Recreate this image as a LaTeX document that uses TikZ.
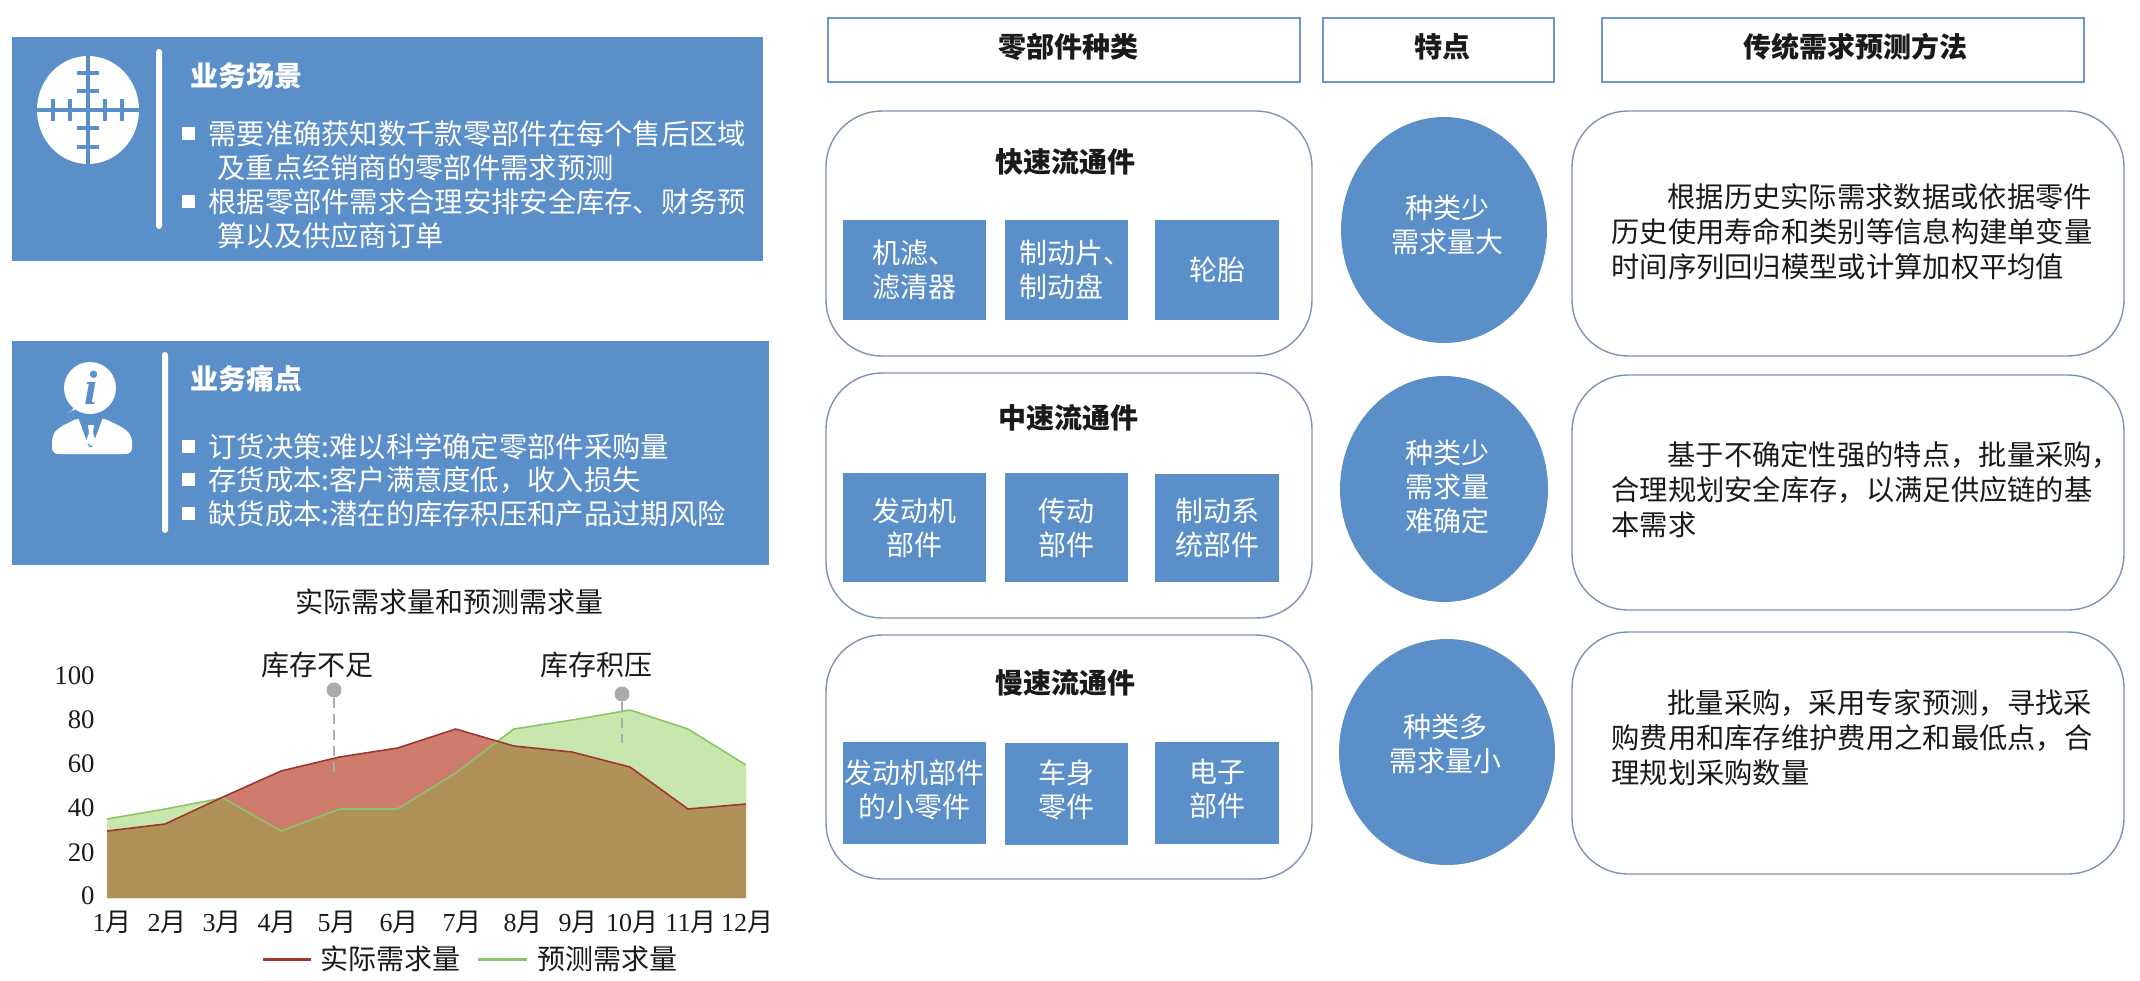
\documentclass[tikz,border=0pt]{standalone}
\usepackage{fontspec}
\usepackage{tikz}
\usetikzlibrary{shapes.geometric}
\setmainfont{Noto Sans CJK SC}
\newfontfamily\numfont{Liberation Serif}
\definecolor{panelblue}{HTML}{5B8FC9}
\definecolor{headline}{HTML}{6B96C6}
\definecolor{roundline}{HTML}{7F93B2}
\definecolor{areared}{HTML}{CE7C6C}
\definecolor{areagreen}{HTML}{C7E7AC}
\definecolor{areaboth}{HTML}{B09159}
\definecolor{linered}{HTML}{A0362F}
\definecolor{linegreen}{HTML}{8CC46C}
\definecolor{darktext}{HTML}{1A1A1A}
\definecolor{pingrey}{HTML}{ABABAB}
\newcommand{\actualline}{(107,831) -- (165,824) -- (223,797) -- (281,771) -- (339.5,757) -- (397.6,748) -- (455.7,729) -- (513.8,746) -- (572,752) -- (630,767) -- (688,809) -- (746,804)}
\newcommand{\forecastline}{(107,819) -- (165,809) -- (223,798) -- (281,831) -- (339.5,809) -- (397.6,809) -- (455.7,773) -- (513.8,729) -- (572,720) -- (630,710) -- (688,729) -- (746,765)}

\begin{document}
\begin{tikzpicture}[x=0.5pt,y=-0.5pt,inner sep=0pt,
        panel/.style={fill=panelblue,minimum height=112pt},
        partbox/.style={fill=panelblue,text=white,align=center,font=\fontsize{14}{17}\selectfont},
        parttext/.style={text=white,align=center,font=\fontsize{14}{17}\selectfont},
        headbox/.style={draw=headline,line width=1.2pt,fill=white,minimum height=32pt},
        headtext/.style={text=darktext,font=\fontsize{14}{17}\selectfont\bfseries},
        groupbox/.style={draw=roundline,line width=0.7pt,rounded corners=28pt,fill=white},
        traitshape/.style={ellipse,fill=panelblue},
        paneltext/.style={anchor=west,align=left,text=white,font=\fontsize{14.15}{17}\selectfont},
        paneltitle/.style={anchor=west,text=white,font=\fontsize{14}{17}\selectfont\bfseries},
        grouptitle/.style={text=darktext,font=\fontsize{14}{17}\selectfont\bfseries},
        methodtext/.style={anchor=west,align=left,text=darktext,font=\fontsize{14.15}{17.5}\selectfont},
        charttext/.style={text=darktext,font=\fontsize{14}{17}\selectfont},
        bulletmark/.style={fill=white,minimum size=6.5pt},
        markerdot/.style={circle,fill=pingrey,minimum size=7.5pt},
        guide/.style={draw=pingrey,line width=0.8pt,dashed,dash pattern=on 5pt off 3pt}]
    \useasboundingbox (0,0) rectangle (2140,980);

    % left panels
    \node[panel,minimum width=375.5pt] (scenepanel) at (387.5,149) {};
    \node[panel,minimum width=378.5pt] (painpanel) at (390.5,453) {};
    \fill[white,rounded corners=1.5pt] (156,49) rectangle (162,229);
    \fill[white,rounded corners=1.5pt] (162,352) rectangle (168,533);

    \fill[white] (88,110) circle [x radius=51,y radius=54];
    \draw[panelblue,line width=1.7pt] (88,56) -- (88,164) (37,110) -- (139,110);
    \foreach \tx in {53,70,105,122}
        \draw[panelblue,line width=1.7pt] (\tx,99) -- (\tx,121);
    \foreach \ty in {73,91,128,147}
        \draw[panelblue,line width=1.7pt] (77,\ty) -- (99,\ty);

    \fill[white] (90,388) circle [radius=26];
    \fill[white] (78,408) -- (67,413) .. controls (72,412) and (76,408) .. (72,400) -- cycle;
    \node[text=panelblue,font=\numfont\fontsize{24}{24}\selectfont\bfseries\itshape] (infomark) at (91,388) {i};
    \fill[white,rounded corners=3pt] (52,454) -- (52,436) -- (58,428) -- (78,418) -- (103,418) -- (124,428) -- (132,436) -- (132,454) -- cycle;
    \fill[panelblue] (78,417) -- (103,417) -- (92,447) -- (89,447) -- cycle;
    \fill[white] (88,425) -- (94,425) -- (93,433) -- (96,441) -- (91,446) -- (86,441) -- (89,433) -- cycle;

    \node[paneltitle] (scenetitle) at (190,76) {业务场景};
    \node[bulletmark] (scenebul1) at (188,133) {};
    \node[bulletmark] (scenebul2) at (188,201) {};
    \node[paneltext] (scenetext1) at (208,151) {需要准确获知数千款零部件在每个售后区域\\\hspace*{4.5pt}及重点经销商的零部件需求预测};
    \node[paneltext] (scenetext2) at (208,219) {根据零部件需求合理安排安全库存、财务预\\\hspace*{4.5pt}算以及供应商订单};

    \node[paneltitle] (paintitle) at (190,379) {业务痛点};
    \node[bulletmark] (painbul1) at (188,446) {};
    \node[bulletmark] (painbul2) at (188,479) {};
    \node[bulletmark] (painbul3) at (188,513) {};
    \node[paneltext] (paintext1) at (208,447) {订货决策:难以科学确定零部件采购量};
    \node[paneltext] (paintext2) at (208,480) {存货成本:客户满意度低，收入损失};
    \node[paneltext] (paintext3) at (208,514) {缺货成本:潜在的库存积压和产品过期风险};

    % chart
    \node[charttext] (charttitle) at (449,602) {实际需求量和预测需求量};
    \fill[areagreen] \forecastline -- (746,898) -- (107,898) -- cycle;
    \fill[areared] \actualline -- (746,898) -- (107,898) -- cycle;
    \begin{scope}
        \clip \forecastline -- (746,898) -- (107,898) -- cycle;
        \fill[areaboth] \actualline -- (746,898) -- (107,898) -- cycle;
    \end{scope}
    \draw[linegreen,line width=0.8pt] \forecastline;
    \draw[linered,line width=0.8pt] \actualline;

    \foreach \val/\ypos in {100/676,80/720,60/764,40/808,20/853,0/896}
        \node[anchor=east,text=darktext,font=\numfont\fontsize{13.4}{16}\selectfont] (ylabel\val) at (95,\ypos) {\val};
    \foreach \mon/\xpos in {1/112,2/167,3/222,4/277,5/337,6/399,7/462,8/523,9/578,10/632,11/691,12/747}
        \node[text=darktext,font=\fontsize{13}{16}\selectfont] (month\mon) at (\xpos,922) {{\numfont\mon}月};

    \node[charttext] (shortlabel) at (317,665) {库存不足};
    \node[charttext] (overlabel) at (596,665) {库存积压};
    \node[markerdot] (shortdot) at (334,690) {};
    \node[markerdot] (overdot) at (622,694) {};
    \coordinate (shortend) at (334,773);
    \coordinate (overend) at (622,743);
    \draw[guide] (shortdot) -- (shortend);
    \draw[guide] (overdot) -- (overend);

    \coordinate (redfrom) at (263,959);
    \coordinate (redto) at (311,959);
    \coordinate (greenfrom) at (478,959);
    \coordinate (greento) at (527,959);
    \draw[linered,line width=1.5pt] (redfrom) -- (redto);
    \draw[linegreen,line width=1.5pt] (greenfrom) -- (greento);
    \node[charttext,anchor=west] (redlegend) at (320,959) {实际需求量};
    \node[charttext,anchor=west] (greenlegend) at (537,959) {预测需求量};

    % headers
    \node[headbox,minimum width=236pt] (parthead) at (1064,50) {};
    \node[headbox,minimum width=115.5pt] (traithead) at (1438.5,50) {};
    \node[headbox,minimum width=241pt] (methodhead) at (1843,50) {};
    \node[headtext] (partlabel) at (1068,47) {零部件种类};
    \node[headtext] (traitlabel) at (1442,47) {特点};
    \node[headtext] (methodlabel) at (1855,47) {传统需求预测方法};

    % rows
    \node[groupbox,minimum width=243pt,minimum height=122.5pt] (fastgroup) at (1069,233.5) {};
    \node[groupbox,minimum width=243pt,minimum height=122.5pt] (midgroup) at (1069,495.5) {};
    \node[groupbox,minimum width=243pt,minimum height=122pt] (slowgroup) at (1069,757) {};
    \node[groupbox,minimum width=276pt,minimum height=122.5pt] (fastmethod) at (1848,233.5) {};
    \node[groupbox,minimum width=276pt,minimum height=117.5pt] (midmethod) at (1848,492.5) {};
    \node[groupbox,minimum width=276pt,minimum height=121pt] (slowmethod) at (1848,753) {};

    \node[grouptitle] (fasttitle) at (1065,162) {快速流通件};
    \node[grouptitle] (midtitle) at (1068,418) {中速流通件};
    \node[grouptitle] (slowtitle) at (1065,683) {慢速流通件};

    \node[partbox,minimum width=71.5pt,minimum height=50pt,align=left] (fastA) at (914.5,270) {机滤\rlap{、}\\滤清器};
    \node[partbox,minimum width=61.5pt,minimum height=50pt,align=left] (fastB) at (1066.5,270) {制动片\rlap{、}\hspace*{5pt}\\制动盘};
    \node[partbox,minimum width=62pt,minimum height=50pt] (fastC) at (1217,270) {轮胎};
    \node[partbox,minimum width=71.5pt,minimum height=54.5pt] (midA) at (914.5,527.5) {发动机\\部件};
    \node[partbox,minimum width=61.5pt,minimum height=54.5pt] (midB) at (1066.5,527.5) {传动\\部件};
    \node[partbox,minimum width=62pt,minimum height=54pt] (midC) at (1217,528) {制动系\\统部件};
    \node[partbox,minimum width=71.5pt,minimum height=51pt] (slowA) at (914.5,793) {};
    \node[partbox,minimum width=61.5pt,minimum height=51pt] (slowB) at (1066.5,793.5) {};
    \node[partbox,minimum width=62pt,minimum height=51pt] (slowC) at (1217,793) {};
    \node[parttext] (slowAtext) at (914.5,790) {发动机部件\\的小零件};
    \node[parttext] (slowBtext) at (1066.5,790) {车身\\零件};
    \node[parttext] (slowCtext) at (1217,789) {电子\\部件};

    \node[traitshape,minimum width=103pt,minimum height=113pt] (fasttrait) at (1444,230) {};
    \node[traitshape,minimum width=104pt,minimum height=113pt] (midtrait) at (1444,489) {};
    \node[traitshape,minimum width=108pt,minimum height=113pt] (slowtrait) at (1447,752) {};
    \node[parttext] (fastnote) at (1447,225) {种类少\\需求量大};
    \node[parttext] (midnote) at (1447,487) {种类少\\需求量\\难确定};
    \node[parttext] (slownote) at (1445,744) {种类多\\需求量小};

    \node[methodtext] (fasttext) at (1611,232) {\hspace*{28pt}根据历史实际需求数据或依据零件\\历史使用寿命和类别等信息构建单变量\\时间序列回归模型或计算加权平均值};
    \node[methodtext] (midtext) at (1611,490) {\hspace*{28pt}基于不确定性强的特点，批量采购，\\合理规划安全库存，以满足供应链的基\\本需求};
    \node[methodtext] (slowtext) at (1611,738) {\hspace*{28pt}批量采购，采用专家预测，寻找采\\购费用和库存维护费用之和最低点，合\\理规划采购数量};
\end{tikzpicture}
\end{document}
